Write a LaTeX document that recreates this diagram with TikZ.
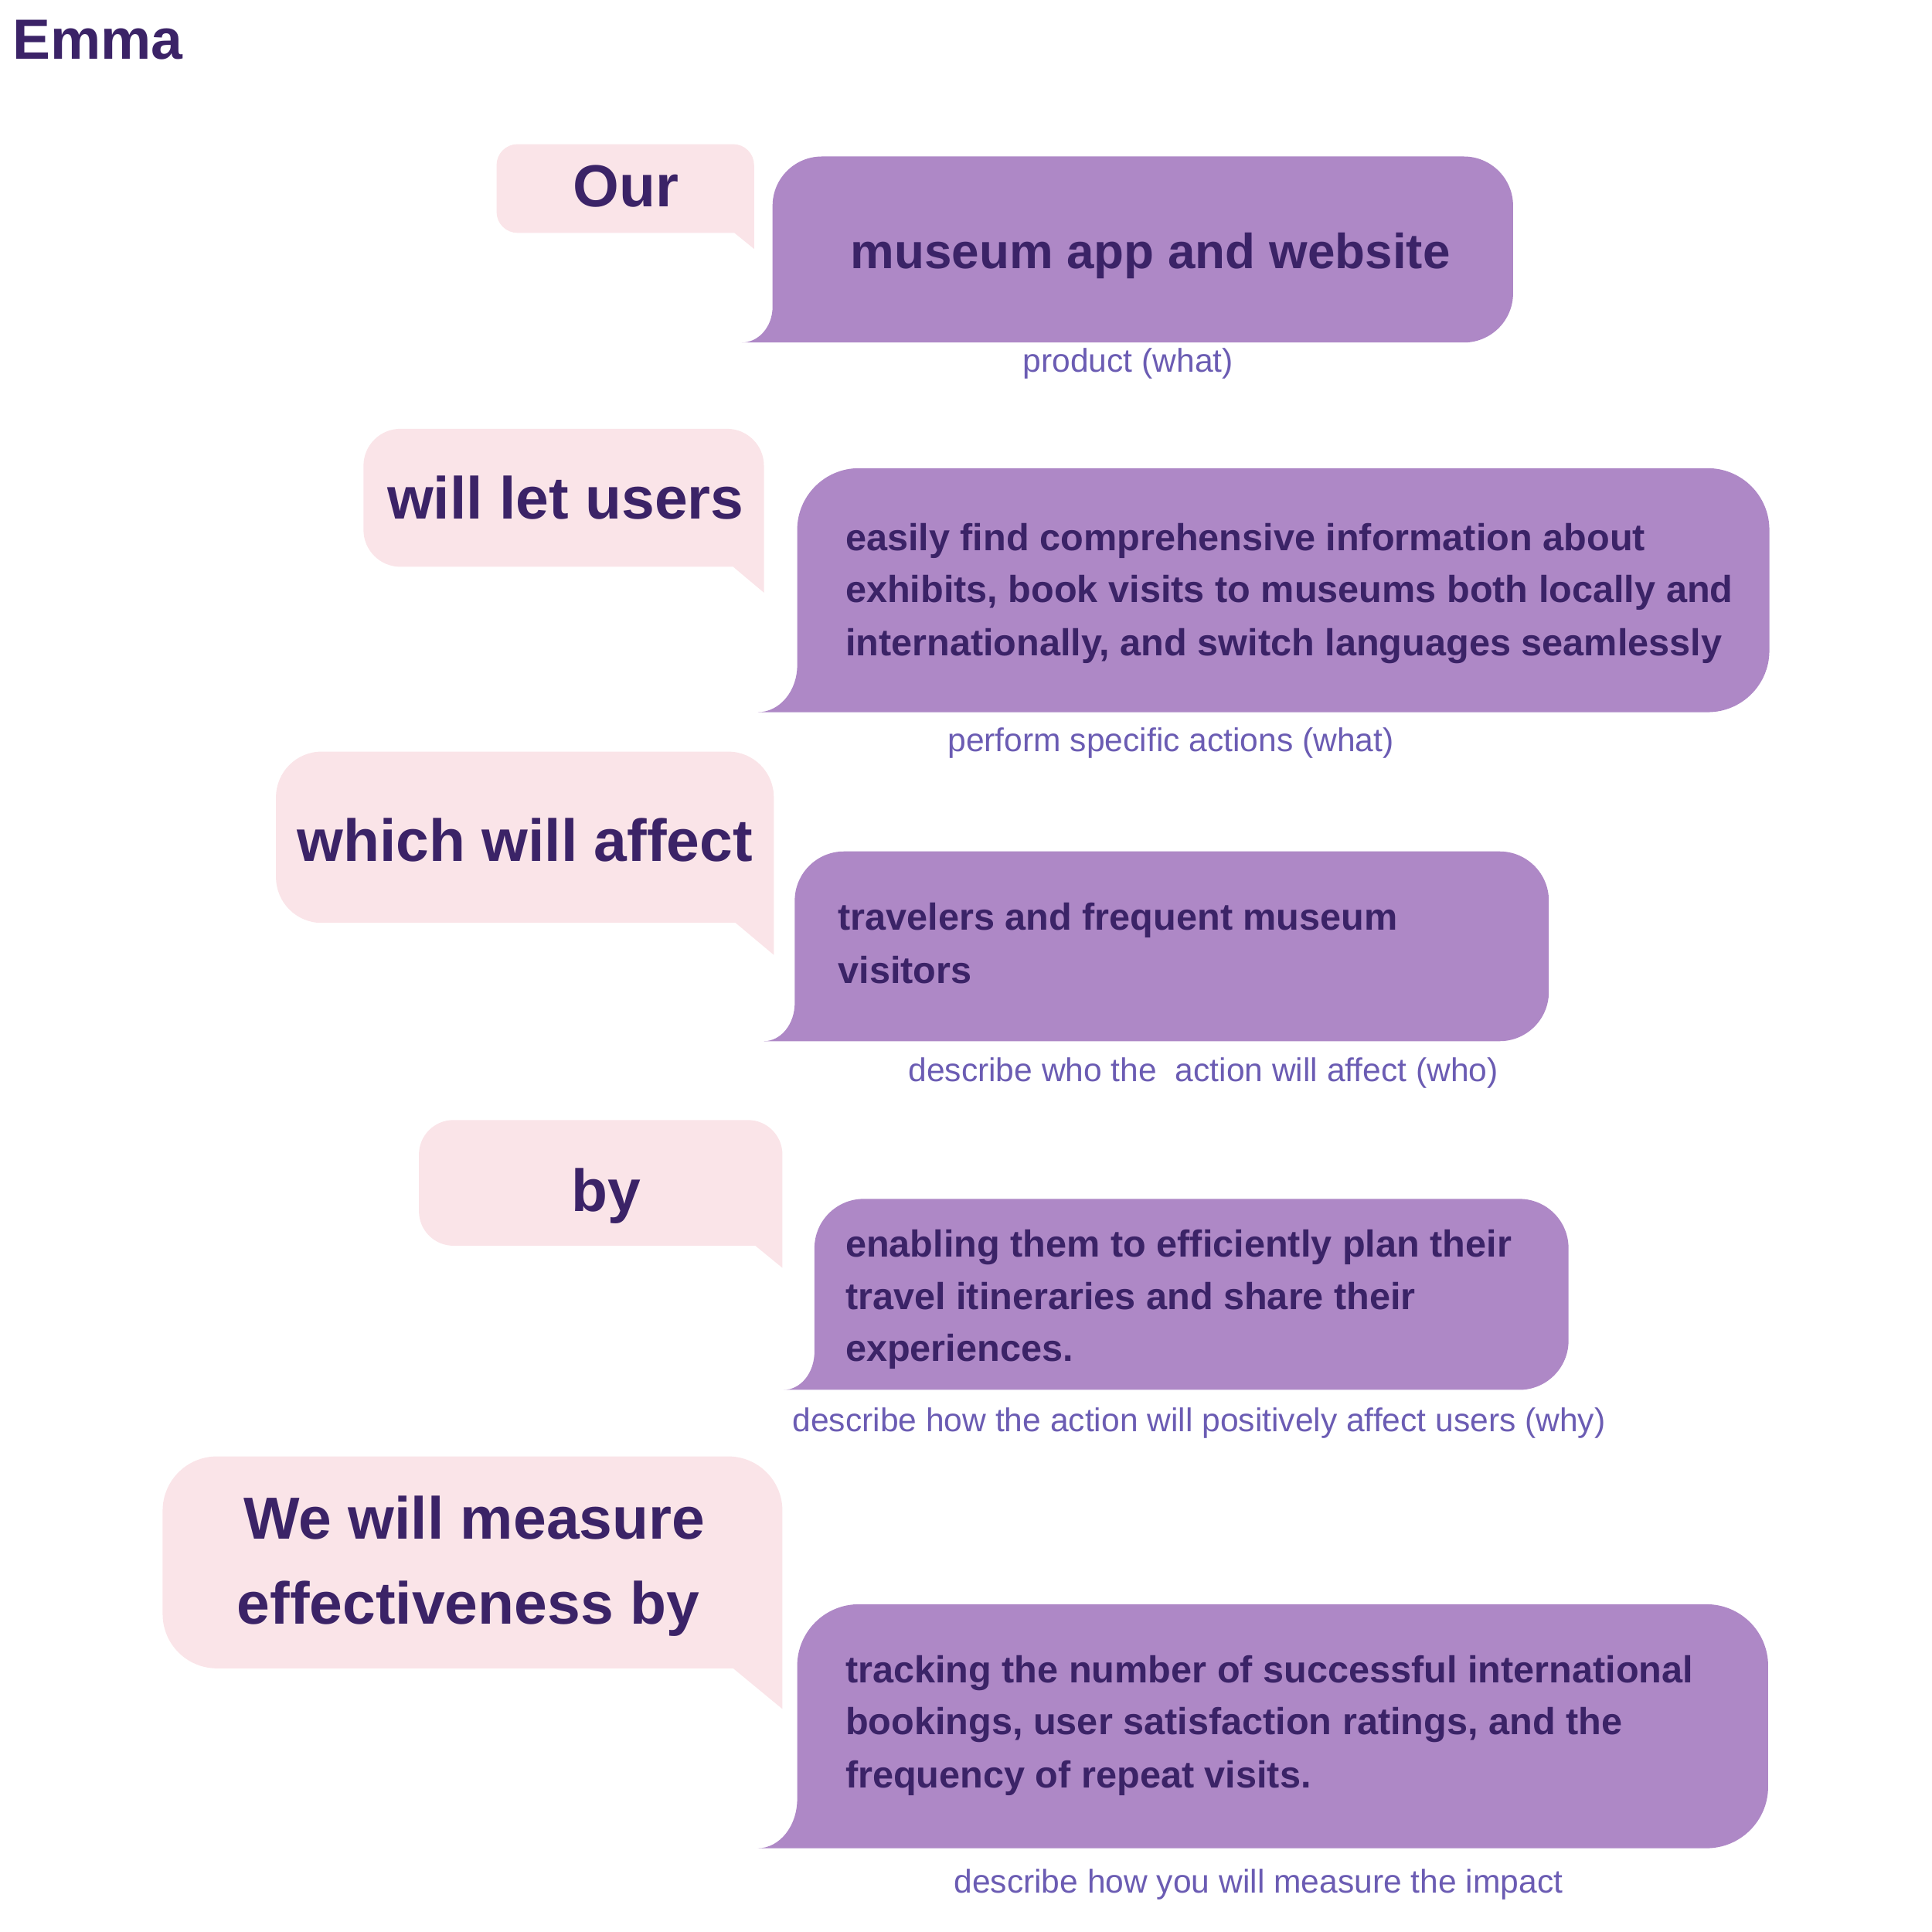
\documentclass[tikz,border=0pt]{standalone}
\usepackage{fontspec}
\setmainfont{Liberation Sans}
\definecolor{pinkbg}{HTML}{FAE4E8}
\definecolor{purplebg}{HTML}{AE88C6}
\definecolor{ink}{HTML}{3B2367}
\definecolor{subink}{HTML}{6B5CB3}
\newcommand\pinkbubble[7]{% L T R B r tx ty
  \fill[pinkbg] (#1,#2+#5) .. controls (#1,#2+0.4477*#5) and (#1+0.4477*#5,#2) .. (#1+#5,#2)
   -- (#3-#5,#2) .. controls (#3-0.4477*#5,#2) and (#3,#2+0.4477*#5) .. (#3,#2+#5)
   -- (#3,#4+#7) -- (#3-#6,#4) -- (#1+#5,#4)
   .. controls (#1+0.4477*#5,#4) and (#1,#4-0.4477*#5) .. (#1,#4-#5) -- cycle;}
\newcommand\purplebubble[7]{% L T R B r rx ry
  \fill[purplebg] (#1,#2+#5) .. controls (#1,#2+0.4477*#5) and (#1+0.4477*#5,#2) .. (#1+#5,#2)
   -- (#3-#5,#2) .. controls (#3-0.4477*#5,#2) and (#3,#2+0.4477*#5) .. (#3,#2+#5)
   -- (#3,#4-#5) .. controls (#3,#4-0.4477*#5) and (#3-0.4477*#5,#4) .. (#3-#5,#4)
   -- (#1-#6,#4) .. controls (#1-0.4477*#6,#4) and (#1,#4-0.4477*#7) .. (#1,#4-#7) -- cycle;}
\tikzset{
  titletext/.style={font=\fontsize{46}{55}\selectfont\bfseries, text=ink, inner sep=0pt, anchor=base west},
  pinktext/.style={font=\fontsize{48.2}{58}\selectfont\bfseries, text=ink, inner sep=0pt, anchor=base},
  bigtext/.style={font=\fontsize{40}{48}\selectfont\bfseries, text=ink, inner sep=0pt, anchor=base west},
  bodytext/.style={font=\fontsize{30.5}{42.5}\selectfont\bfseries, text=ink, inner sep=0pt, anchor=base west},
  subtext/.style={font=\fontsize{26.7}{32}\selectfont, text=subink, inner sep=0pt, anchor=base west}
}
\begin{document}
\begin{tikzpicture}[x=1pt,y=-1pt]
\useasboundingbox (0,0) rectangle (1568,1568);
% title
\node[titletext] (title) at (10,48) {Emma};
% pink bubbles
\pinkbubble{403}{117}{612}{189}{17}{16}{13}
\pinkbubble{295}{348}{620}{460}{30}{25}{21}
\pinkbubble{224}{610}{628}{749}{37}{31}{26}
\pinkbubble{340}{909}{635}{1011}{28}{22}{18}
\pinkbubble{132}{1182}{635}{1354}{44}{40}{33}
% purple bubbles
\purplebubble{627}{127}{1228}{278}{40}{25}{29}
\purplebubble{647}{380}{1436}{578}{50}{32}{38}
\purplebubble{645}{691}{1257}{845}{40}{25}{31}
\purplebubble{661}{973}{1273}{1128}{40}{25}{31}
\purplebubble{647}{1302}{1435}{1500}{50}{32}{40}
% pink texts
\node[pinktext] (k1) at (508,168) {Our};
\node[pinktext] (k2) at (459,421) {will let users};
\node[pinktext] (k3) at (426,699) {which will affect};
\node[pinktext] (k4) at (492,983) {by};
\node[pinktext] (k5a) at (385,1249) {We will measure};
\node[pinktext] (k5b) at (380,1318) {effectiveness by};
% purple texts
\node[bigtext] (p1) at (690,218) {museum app and website};
\node[bodytext] (p2a) at (686,447) {easily find comprehensive information about};
\node[bodytext] (p2b) at (686,489) {exhibits, book visits to museums both locally and};
\node[bodytext] (p2c) at (686,532) {internationally, and switch languages seamlessly};
\node[bodytext] (p3a) at (680,755) {travelers and frequent museum};
\node[bodytext] (p3b) at (680,798) {visitors};
\node[bodytext] (p4a) at (686,1020) {enabling them to efficiently plan their};
\node[bodytext] (p4b) at (686,1063) {travel itineraries and share their};
\node[bodytext] (p4c) at (686,1105) {experiences.};
\node[bodytext] (p5a) at (686,1366) {tracking the number of successful international};
\node[bodytext] (p5b) at (686,1408) {bookings, user satisfaction ratings, and the};
\node[bodytext] (p5c) at (686,1451) {frequency of repeat visits.};
% sub captions
\node[subtext] (s1) at (830,302) {product (what)};
\node[subtext] (s2) at (769,610) {perform specific actions (what)};
\node[subtext] (s3) at (737,878) {describe who the~ action will affect (who)};
\node[subtext] (s4) at (643,1162) {describe how the action will positively affect users (why)};
\node[subtext] (s5) at (774,1536) {describe how you will measure the impact};
\end{tikzpicture}
\end{document}
